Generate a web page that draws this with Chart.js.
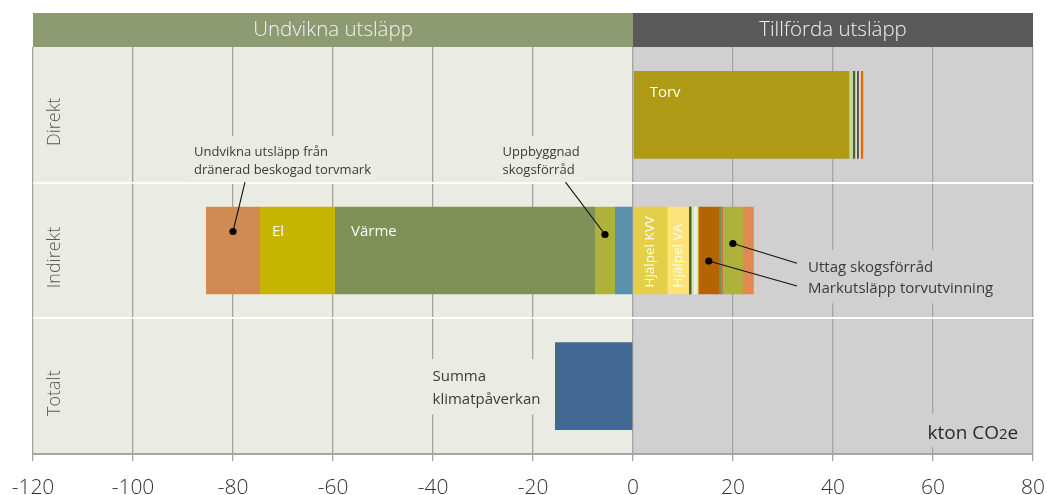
<!DOCTYPE html>
<html><head><meta charset="utf-8">
<script src="https://cdn.jsdelivr.net/npm/chart.js@4.4.1/dist/chart.umd.min.js"></script>
<style>html,body{margin:0;padding:0;background:#fff;} #wrap{width:1047px;height:495px;position:relative;}</style>
</head><body><div id="wrap"><canvas id="c"></canvas></div>
<script>
// ---- data ----
const categories = ['Direkt', 'Indirekt', 'Totalt'];
const xTicks = [-120, -100, -80, -60, -40, -20, 0, 20, 40, 60, 80];
const headers = ['Undvikna utsläpp', 'Tillförda utsläpp'];
const unit = ['kton CO', '2', 'e'];
// Undvikna (negativa)
const undviknaOvrigt = [null, -3.6, null];
const uppbyggnadSkogsforrad = [null, -4.0, null];
const varme = [null, -52.0, null];
const el = [null, -15.0, null];
const draneradTorvmark = [null, -10.8, null];
// Tillförda (positiva)
const torv = [43.25, null, null];
const hjalpelKVV = [null, 6.9, null];
const hjalpelVA = [null, 4.3, null];
const ovrigtA = [0.73, null, null];
const ovrigtB = [0.47, 0.5, null];
const ovrigtC = [null, 0.45, null];
const ovrigtD = [null, 0.75, null];
const ovrigtE = [null, 0.2, null];
const markutslappTorvutvinning = [null, 4.1, null];
const ovrigtF = [null, 0.55, null];
const ovrigtG = [null, 0.2, null];
const uttagSkogsforrad = [null, 4.05, null];
const ovrigtH = [0.33, null, null];
const ovrigtI = [0.4, null, null];
const ovrigtJ = [0.33, null, null];
const ovrigtK = [0.53, null, null];
const ovrigtL = [null, 2.15, null];
const summaKlimatpaverkan = [null, null, -15.6];

// ---- series (data + colour) ----
const series = [
  {key: 'undviknaOvrigt', data: undviknaOvrigt, color: '#5a92ac'},
  {key: 'uppbyggnad', data: uppbyggnadSkogsforrad, color: '#afb23a'},
  {key: 'varme', data: varme, color: '#7f9157'},
  {key: 'el', data: el, color: '#c5b400'},
  {key: 'torvmark', data: draneradTorvmark, color: '#d08b52'},
  {key: 'torv', data: torv, color: '#ae9a15'},
  {key: 'kvv', data: hjalpelKVV, color: '#e4cf48'},
  {key: 'va', data: hjalpelVA, color: '#fde47a'},
  {key: 'a', data: ovrigtA, color: '#c3d69b'},
  {key: 'b', data: ovrigtB, color: '#4f6228'},
  {key: 'c', data: ovrigtC, color: '#d7e4bc'},
  {key: 'd', data: ovrigtD, color: '#ebf1dd'},
  {key: 'e', data: ovrigtE, color: '#e8c200'},
  {key: 'mark', data: markutslappTorvutvinning, color: '#b46400'},
  {key: 'f', data: ovrigtF, color: '#77933c'},
  {key: 'g', data: ovrigtG, color: '#c0504d'},
  {key: 'uttag', data: uttagSkogsforrad, color: '#afb23a'},
  {key: 'h', data: ovrigtH, color: '#e2e6d8'},
  {key: 'i', data: ovrigtI, color: '#4d4d5f'},
  {key: 'j', data: ovrigtJ, color: '#e2e6d8'},
  {key: 'k', data: ovrigtK, color: '#e46c0a'},
  {key: 'l', data: ovrigtL, color: '#e08a52'},
  {key: 'summa', data: summaKlimatpaverkan, color: '#426894'}
];

const LEFT_BG = '#eaece4', RIGHT_BG = '#d0d0d0';
const FAM = '"Open Sans", sans-serif';

const barLabels = [
  {key: 'torv', cat: 0, text: 'Torv', dx: 16, dy: -22},
  {key: 'el', cat: 1, text: 'El', dx: 12, dy: -18.5},
  {key: 'varme', cat: 1, text: 'Värme', dx: 16, dy: -18.5},
  {key: 'kvv', cat: 1, text: 'Hjälpel KVV', rotate: true, dy: 37},
  {key: 'va', cat: 1, text: 'Hjälpel VA', rotate: true, dy: 37}
];

const notes = [
  {lines: ['Undvikna utsläpp från', 'dränerad beskogad torvmark'], x: -87.8, cat: 0, dy: 37, gap: 18, size: 13,
   links: [{from: 'bottom', fx: 51, key: 'torvmark', cat: 1, ddy: -19}]},
  {lines: ['Uppbyggnad', 'skogsförråd'], x: -26.1, cat: 0, dy: 37, gap: 18, size: 13,
   links: [{from: 'bottom', fx: 63, key: 'uppbyggnad', cat: 1, ddy: -16}]},
  {lines: ['Uttag skogsförråd', 'Markutsläpp torvutvinning'], x: 35, cat: 1, dy: 17.2, gap: 21.3, size: 15,
   links: [{from: 'line', line: 0, fx: -11, fdy: -4.4, key: 'uttag', cat: 1, ddy: -7},
           {from: 'line', line: 1, fx: -11, fdy: -3, key: 'mark', cat: 1, ddy: 10.5}]},
  {lines: ['Summa', 'klimatpåverkan'], x: -40.1, cat: 2, dy: -9, gap: 23, size: 15, links: []}
];

function segOf(chart, key, cat) {
  const idx = series.findIndex(s => s.key === key);
  const e = chart.getDatasetMeta(idx).data[cat];
  const l = Math.min(e.x, e.base), r = Math.max(e.x, e.base);
  return {l, r, cx: (l + r) / 2, cy: e.y, h: e.height};
}

const plugin = {
  id: 'deco',
  beforeDraw(chart) {
    const {ctx, chartArea: a, scales: {x}} = chart;
    const x0 = x.getPixelForValue(0);
    ctx.save();
    ctx.fillStyle = LEFT_BG; ctx.fillRect(a.left, a.top, x0 - a.left, a.bottom - a.top);
    ctx.fillStyle = RIGHT_BG; ctx.fillRect(x0, a.top, a.right - x0, a.bottom - a.top);
    const hTop = a.top - 34;
    ctx.fillStyle = '#8e9a72'; ctx.fillRect(a.left, hTop, x0 - a.left, 34);
    ctx.fillStyle = '#595959'; ctx.fillRect(x0, hTop, a.right - x0, 34);
    ctx.fillStyle = '#f2f2f2';
    ctx.font = '300 20.5px ' + FAM; ctx.textAlign = 'center'; ctx.textBaseline = 'middle';
    ctx.fillText(headers[0], (a.left + x0) / 2, hTop + 17);
    ctx.fillText(headers[1], (a.right + x0) / 2, hTop + 17);
    ctx.restore();
  },
  afterDatasetsDraw(chart) {
    const {ctx, chartArea: a, scales: {x, y}} = chart;
    ctx.save();
    // category labels inside plot
    ctx.fillStyle = '#595959';
    ctx.font = '300 18px ' + FAM; ctx.textAlign = 'center'; ctx.textBaseline = 'middle';
    categories.forEach((c, i) => {
      ctx.save();
      ctx.translate(a.left + 22, y.getPixelForValue(i) + 7);
      ctx.rotate(-Math.PI / 2);
      ctx.fillText(c, 0, 0);
      ctx.restore();
    });
    // bar labels
    ctx.fillStyle = '#fafafa';
    barLabels.forEach(b => {
      const s = segOf(chart, b.key, b.cat);
      const cy = y.getPixelForValue(b.cat);
      if (b.rotate) {
        ctx.font = '13.5px ' + FAM;
        ctx.save();
        ctx.translate(s.cx, cy + b.dy);
        ctx.rotate(-Math.PI / 2);
        ctx.textAlign = 'left'; ctx.textBaseline = 'middle';
        ctx.fillText(b.text, 0, 0);
        ctx.restore();
      } else {
        ctx.font = '15px ' + FAM;
        ctx.textAlign = 'left'; ctx.textBaseline = 'middle';
        ctx.fillText(b.text, s.l + b.dx, cy + b.dy);
      }
    });
    // notes
    notes.forEach(n => {
      const left = x.getPixelForValue(n.x);
      const c0 = y.getPixelForValue(n.cat) + n.dy;
      const cl = c0 + n.gap * (n.lines.length - 1);
      ctx.font = n.size + 'px ' + FAM;
      const w = Math.max(...n.lines.map(l => ctx.measureText(l).width));
      const top = c0 - n.size * 1.2, bottom = cl + n.size * 0.95;
      ctx.fillStyle = n.x < 0 ? LEFT_BG : RIGHT_BG;
      ctx.fillRect(left - 5, top, w + 11, bottom - top);
      ctx.fillStyle = '#3a3a3a'; ctx.textAlign = 'left'; ctx.textBaseline = 'middle';
      n.lines.forEach((l, i) => ctx.fillText(l, left, c0 + i * n.gap));
      n.links.forEach(k => {
        const s = segOf(chart, k.key, k.cat);
        const dx = s.cx, dyy = y.getPixelForValue(k.cat) + k.ddy;
        let fx, fy;
        if (k.from === 'bottom') { fx = left + k.fx; fy = bottom; }
        else { fx = left + k.fx; fy = c0 + k.line * n.gap + k.fdy; }
        ctx.strokeStyle = '#111'; ctx.lineWidth = 1.1;
        ctx.beginPath(); ctx.moveTo(fx, fy); ctx.lineTo(dx, dyy); ctx.stroke();
        ctx.fillStyle = '#000';
        ctx.beginPath(); ctx.arc(dx, dyy, 3.6, 0, Math.PI * 2); ctx.fill();
        ctx.fillStyle = '#3a3a3a';
      });
    });
    // unit label
    {
      const left = x.getPixelForValue(58.9);
      const cy = y.getPixelForValue(2) + 46;
      ctx.font = '19px ' + FAM;
      const w1 = ctx.measureText(unit[0]).width;
      ctx.font = '15px ' + FAM;
      const w2 = ctx.measureText(unit[1]).width;
      ctx.font = '19px ' + FAM;
      const w3 = ctx.measureText(unit[2]).width;
      ctx.fillStyle = RIGHT_BG;
      ctx.fillRect(left - 5, cy - 19, w1 + w2 + w3 + 10, 34);
      ctx.fillStyle = '#2a2a2a'; ctx.textAlign = 'left'; ctx.textBaseline = 'alphabetic';
      const base = cy + 7;
      ctx.fillText(unit[0], left, base);
      ctx.font = '15px ' + FAM; ctx.fillText(unit[1], left + w1, base);
      ctx.font = '19px ' + FAM; ctx.fillText(unit[2], left + w1 + w2, base);
    }
    ctx.restore();
  }
};

new Chart(document.getElementById('c'), {
  type: 'bar',
  data: {
    labels: categories,
    datasets: series.map(s => ({
      label: s.key, data: s.data, backgroundColor: s.color, borderWidth: 0,
      categoryPercentage: 0.646, barPercentage: 1
    }))
  },
  options: {
    indexAxis: 'y',
    responsive: true, maintainAspectRatio: false, animation: false,
    devicePixelRatio: 1,
    layout: {padding: {left: 33, right: 14, top: 47, bottom: 0}},
    plugins: {legend: {display: false}, tooltip: {enabled: false}},
    scales: {
      x: {
        type: 'linear', min: -120, max: 80, stacked: true,
        afterBuildTicks: s => { s.ticks = xTicks.map(v => ({value: v})); },
        afterFit: s => { s.height = 41; s.paddingLeft = 0; s.paddingRight = 0; },
        grid: {color: '#a3a3a3', lineWidth: 1.3, tickLength: 7, drawTicks: true, tickColor: '#a3a3a3'},
        border: {display: true, color: '#a6a6a6', width: 2},
        ticks: {font: {family: FAM, size: 21, weight: 300}, color: '#333', padding: 14, maxRotation: 0, autoSkip: false}
      },
      y: {
        stacked: true, offset: true,
        afterFit: s => { s.width = 0; s.paddingTop = 0; s.paddingBottom = 0; },
        grid: {offset: true, drawTicks: false, lineWidth: 2,
               color: c => (c.type === 'tick' && c.index > 0) ? '#ffffff' : 'rgba(0,0,0,0)'},
        border: {display: false},
        ticks: {display: false}
      }
    }
  },
  plugins: [plugin]
});
</script>
</body></html>
